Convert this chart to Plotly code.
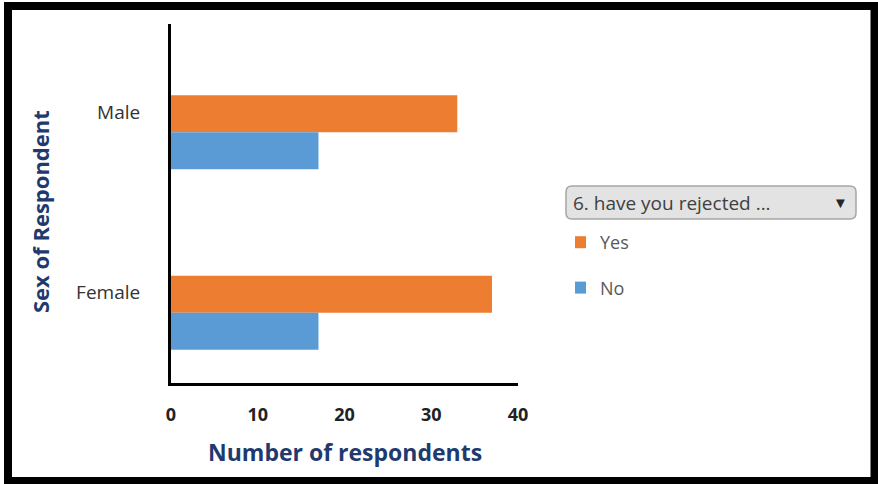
import plotly.graph_objects as go

# Survey counts by sex of respondent
categories = ["Male", "Female"]
yes_counts = [33, 37]
no_counts = [17, 17]
x_ticks = [0, 10, 20, 30, 40]
legend_title = "6. have you rejected ..."

ORANGE = "#ED7D31"
BLUE = "#5B9BD5"
NAVY = "#1F3A6E"

fig = go.Figure()
fig.add_trace(go.Bar(name="Yes", y=categories, x=yes_counts, orientation="h",
                     marker=dict(color=ORANGE, line=dict(width=0)), legendgroup="a"))
fig.add_trace(go.Bar(name="No", y=categories, x=no_counts, orientation="h",
                     marker=dict(color=BLUE, line=dict(width=0)), legendgroup="b"))

W, H = 878, 484
L, R, T, B = 171, 360, 24, 101
PW, PH = W - L - R, H - T - B


def px_x(p):
    return (p - L) / PW


def px_y(p):
    return (H - B - p) / PH


def P(x, y):
    return f"{px_x(x):.5f},{px_y(y):.5f}"


fig.update_layout(
    width=W, height=H,
    margin=dict(l=L, r=R, t=T, b=B, autoexpand=False),
    paper_bgcolor="white", plot_bgcolor="white",
    barmode="group", bargap=0.59, bargroupgap=0,
    font=dict(family="Open Sans, Lato, sans-serif", color="#404040"),
    xaxis=dict(range=[0, 40], tickvals=x_ticks, showgrid=False, zeroline=False,
               showline=True, linecolor="black", linewidth=3, ticks="",
               tickfont=dict(size=18, color="#222222", weight="bold"),
               ticklabelstandoff=13),
    yaxis=dict(type="category", range=[1.389, -0.6], showgrid=False, zeroline=False,
               showline=True, linecolor="black", linewidth=3, ticks="",
               tickfont=dict(size=19, color="#333333"),
               ticklabelstandoff=24, ticklabelshift=20),
    showlegend=True,
    legend=dict(x=px_x(575), xref="paper", xanchor="left", y=px_y(224), yanchor="top",
                bgcolor="rgba(0,0,0,0)", traceorder="grouped", tracegroupgap=19,
                font=dict(size=18, color="#595959"),
                itemwidth=30, indentation=-15),
)

# Axis titles
fig.add_annotation(xref="paper", yref="paper", x=px_x(345), y=px_y(452),
                   xanchor="center", yanchor="middle", showarrow=False,
                   text="<b>Number of respondents</b>", font=dict(size=23, color=NAVY))
fig.add_annotation(xref="paper", yref="paper", x=px_x(40), y=px_y(212),
                   xanchor="center", yanchor="middle", showarrow=False, textangle=-90,
                   text="<b>Sex of Respondent</b>", font=dict(size=22, color=NAVY))

# Legend header box (rounded) with dropdown arrow
x0, x1, y0, y1, r = 566, 856, 186, 219, 6
box = (f"M {P(x0 + r, y0)} L {P(x1 - r, y0)} Q {P(x1, y0)} {P(x1, y0 + r)} "
       f"L {P(x1, y1 - r)} Q {P(x1, y1)} {P(x1 - r, y1)} L {P(x0 + r, y1)} "
       f"Q {P(x0, y1)} {P(x0, y1 - r)} L {P(x0, y0 + r)} Q {P(x0, y0)} {P(x0 + r, y0)} Z")
fig.add_shape(type="path", xref="paper", yref="paper", path=box,
              line=dict(color="#A6A6A6", width=1.5), fillcolor="#E3E3E3", layer="below")
fig.add_annotation(xref="paper", yref="paper", x=px_x(571), y=px_y(203),
                   xanchor="left", yanchor="middle", showarrow=False,
                   text=legend_title, font=dict(size=19, color="#404040"))
fig.add_annotation(xref="paper", yref="paper", x=px_x(840), y=px_y(202),
                   xanchor="center", yanchor="middle", showarrow=False,
                   text="\u25BC", font=dict(size=15, color="#262626"))

# Outer frame
fig.add_shape(type="rect", xref="paper", yref="paper",
              x0=px_x(8), x1=px_x(874.5), y0=px_y(481), y1=px_y(6),
              line=dict(color="black", width=8), fillcolor="rgba(0,0,0,0)")

fig.write_html("out.html")
